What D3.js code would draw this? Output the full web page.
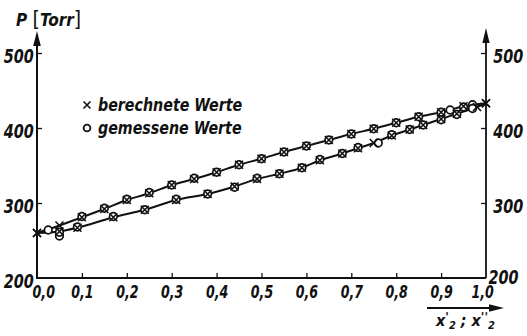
<!DOCTYPE html>
<html>
<head>
<meta charset="utf-8">
<script src="https://cdn.jsdelivr.net/npm/d3@7"></script>
<style>
  html, body { margin: 0; padding: 0; background: #fff; }
  svg { display: block; }
  text { font-family: "Liberation Sans Narrow", "DejaVu Sans Condensed", sans-serif; font-weight: bold; font-style: italic; fill: #111; }
</style>
</head>
<body>
<svg id="chart" width="527" height="336"></svg>
<script>
// Liquid branch (x'), calculated values
const xLiqCalc = [0, 0.05, 0.10, 0.15, 0.20, 0.25, 0.30, 0.35, 0.40, 0.45, 0.50, 0.55, 0.60, 0.65, 0.70, 0.75, 0.80, 0.85, 0.90, 0.95, 1.00];
const pLiqCalc = [260, 270, 281, 292, 304, 313, 324, 332, 341, 351, 359, 368, 376, 384, 392, 399, 407, 415, 421, 429, 433];
// Liquid branch, measured values
const xLiqMeas = [0.025, 0.10, 0.15, 0.20, 0.25, 0.30, 0.35, 0.40, 0.45, 0.50, 0.55, 0.60, 0.65, 0.70, 0.75, 0.80, 0.85, 0.90, 0.92, 0.95, 0.97];
const pLiqMeas = [264, 282, 293, 305, 314, 324, 333, 341, 351, 359, 368, 376, 384, 392, 399, 407, 415, 421, 424, 428, 431];
// Vapour branch (x''), calculated values
const xVapCalc = [0, 0.05, 0.09, 0.17, 0.24, 0.31, 0.38, 0.44, 0.49, 0.54, 0.59, 0.63, 0.68, 0.715, 0.75, 0.79, 0.83, 0.86, 0.90, 0.935, 0.98, 1.00];
const pVapCalc = [260, 262, 267, 281, 291, 304, 312, 322, 332, 339, 347, 357, 366, 373, 380, 390, 398, 404, 412, 419, 428, 433];
// Vapour branch, measured values
const xVapMeas = [0.05, 0.05, 0.09, 0.17, 0.24, 0.31, 0.38, 0.44, 0.49, 0.54, 0.59, 0.63, 0.68, 0.715, 0.76, 0.79, 0.83, 0.86, 0.90, 0.935, 0.97];
const pVapMeas = [256, 261, 268, 282, 291, 305, 312, 321, 333, 339, 347, 358, 366, 374, 380, 391, 398, 404, 411, 418, 426];

const yTicks = [200, 300, 400, 500];
const xTicks = [0, 0.1, 0.2, 0.3, 0.4, 0.5, 0.6, 0.7, 0.8, 0.9, 1.0];
const fmtX = d => d3.format(".1f")(d).replace(".", ",");

const svg = d3.select("#chart");
const x = d3.scaleLinear().domain([0, 1]).range([37, 486]);
const y = d3.scaleLinear().domain([200, 500]).range([278, 53]);

// axes
const gx = svg.append("g").attr("transform", `translate(0,${y(200)})`)
  .call(d3.axisBottom(x).tickValues(xTicks).tickFormat(fmtX).tickSize(-5).tickPadding(9));
const gl = svg.append("g").attr("transform", `translate(${x(0)},0)`)
  .call(d3.axisLeft(y).tickValues(yTicks).tickFormat(d3.format("d")).tickSize(-5).tickPadding(4));
const gr = svg.append("g").attr("transform", `translate(${x(1)},0)`)
  .call(d3.axisRight(y).tickValues(yTicks).tickFormat(d3.format("d")).tickSize(-5).tickPadding(9));

[gx, gl, gr].forEach(g => {
  g.select(".domain").remove();
  g.selectAll(".tick line").attr("stroke", "#111").attr("stroke-width", 1.3);
  g.selectAll(".tick text").attr("font-family", null).attr("fill", "#111");
});
gx.selectAll(".tick text").attr("font-size", 18).attr("dy", "0.6em")
  .attr("transform", "scale(0.78,1)")
  .attr("x", d => d === 0 ? 8 : d === 1 ? -5 : 0);
gx.selectAll(".tick").filter(d => d === 0 || d === 1).select("line").remove();
gl.selectAll(".tick text").attr("font-size", 20).attr("dy", "0.45em").attr("transform", "scale(0.8,1)");
gr.selectAll(".tick text").attr("font-size", 20).attr("dy", "0.45em").attr("transform", "scale(0.8,1)");
gl.selectAll(".tick").filter(d => d === 200).select("line").remove();
gr.selectAll(".tick").filter(d => d === 200).select("line").remove();
gr.selectAll(".tick").filter(d => d === 200).select("text").attr("dy", "0.25em").attr("x", 3);

// axis frame lines with arrows
const ink = "#111";
svg.append("line").attr("x1", x(0)).attr("x2", x(1)).attr("y1", y(200)).attr("y2", y(200))
  .attr("stroke", ink).attr("stroke-width", 1.8);
svg.append("line").attr("x1", x(0)).attr("x2", x(0)).attr("y1", y(200) + 1).attr("y2", 42)
  .attr("stroke", ink).attr("stroke-width", 2);
svg.append("path").attr("d", `M${x(0)},31 L${x(0) - 3.8},46 L${x(0) + 3.8},46 Z`).attr("fill", ink);
svg.append("line").attr("x1", x(1)).attr("x2", x(1)).attr("y1", y(200)).attr("y2", 40)
  .attr("stroke", ink).attr("stroke-width", 1.8);
svg.append("path").attr("d", `M${x(1)},28 L${x(1) - 3.6},43 L${x(1) + 3.6},43 Z`).attr("fill", ink);
svg.append("line").attr("x1", 427).attr("x2", 494).attr("y1", 308).attr("y2", 308)
  .attr("stroke", ink).attr("stroke-width", 2.2);
svg.append("path").attr("d", "M504,308 L489,304.2 L489,311.8 Z").attr("fill", ink);

// axis titles
const ty = svg.append("text").attr("x", 16).attr("y", 26).attr("font-size", 17);
ty.append("tspan").text("P ");
ty.append("tspan").attr("font-size", 21).attr("font-style", "normal").attr("font-weight", "normal").text("[");
ty.append("tspan").text("Torr");
ty.append("tspan").attr("font-size", 21).attr("font-style", "normal").attr("font-weight", "normal").text("]");

const tx = svg.append("text").attr("x", 436).attr("y", 326).attr("font-size", 16);
tx.append("tspan").text("x");
tx.append("tspan").attr("font-size", 13).attr("dy", -5).text("'");
tx.append("tspan").attr("font-size", 11).attr("dy", 8).text("2");
tx.append("tspan").attr("dy", -3).text(" ; x");
tx.append("tspan").attr("font-size", 13).attr("dy", -5).text("''");
tx.append("tspan").attr("font-size", 11).attr("dy", 8).text("2");

// curves through the calculated points
const line = d3.line().x(d => x(d[0])).y(d => y(d[1])).curve(d3.curveMonotoneX);
const liq = xLiqCalc.map((v, i) => [v, pLiqCalc[i]]);
const vap = xVapCalc.map((v, i) => [v, pVapCalc[i]]);
svg.append("path").attr("d", line(liq)).attr("fill", "none").attr("stroke", ink).attr("stroke-width", 2);
svg.append("path").attr("d", line(vap)).attr("fill", "none").attr("stroke", ink).attr("stroke-width", 2);

// measured values (open circles)
const meas = xLiqMeas.map((v, i) => [v, pLiqMeas[i]])
  .concat(xVapMeas.map((v, i) => [v, pVapMeas[i]]));
svg.append("g").selectAll("circle").data(meas).join("circle")
  .attr("cx", d => x(d[0])).attr("cy", d => y(d[1])).attr("r", 3.8)
  .attr("fill", "#fff").attr("stroke", ink).attr("stroke-width", 1.7);

// calculated values (crosses)
const cross = s => `M${-s},${-s}L${s},${s}M${-s},${s}L${s},${-s}`;
svg.append("g").selectAll("path").data(liq.concat(vap)).join("path")
  .attr("transform", d => `translate(${x(d[0])},${y(d[1])})`)
  .attr("d", cross(4)).attr("fill", "none").attr("stroke", ink).attr("stroke-width", 1.6);

// legend
const legend = svg.append("g").attr("transform", "translate(87,0)");
legend.append("path").attr("transform", "translate(0,105)").attr("d", cross(3.5))
  .attr("stroke", ink).attr("stroke-width", 1.6);
legend.append("circle").attr("cx", 0).attr("cy", 128).attr("r", 3.4)
  .attr("fill", "none").attr("stroke", ink).attr("stroke-width", 1.8);
legend.append("text").attr("transform", "translate(11,111) scale(0.88,1)").attr("font-size", 18).text("berechnete Werte");
legend.append("text").attr("transform", "translate(11,134) scale(0.88,1)").attr("font-size", 18).text("gemessene Werte");
</script>
</body>
</html>
